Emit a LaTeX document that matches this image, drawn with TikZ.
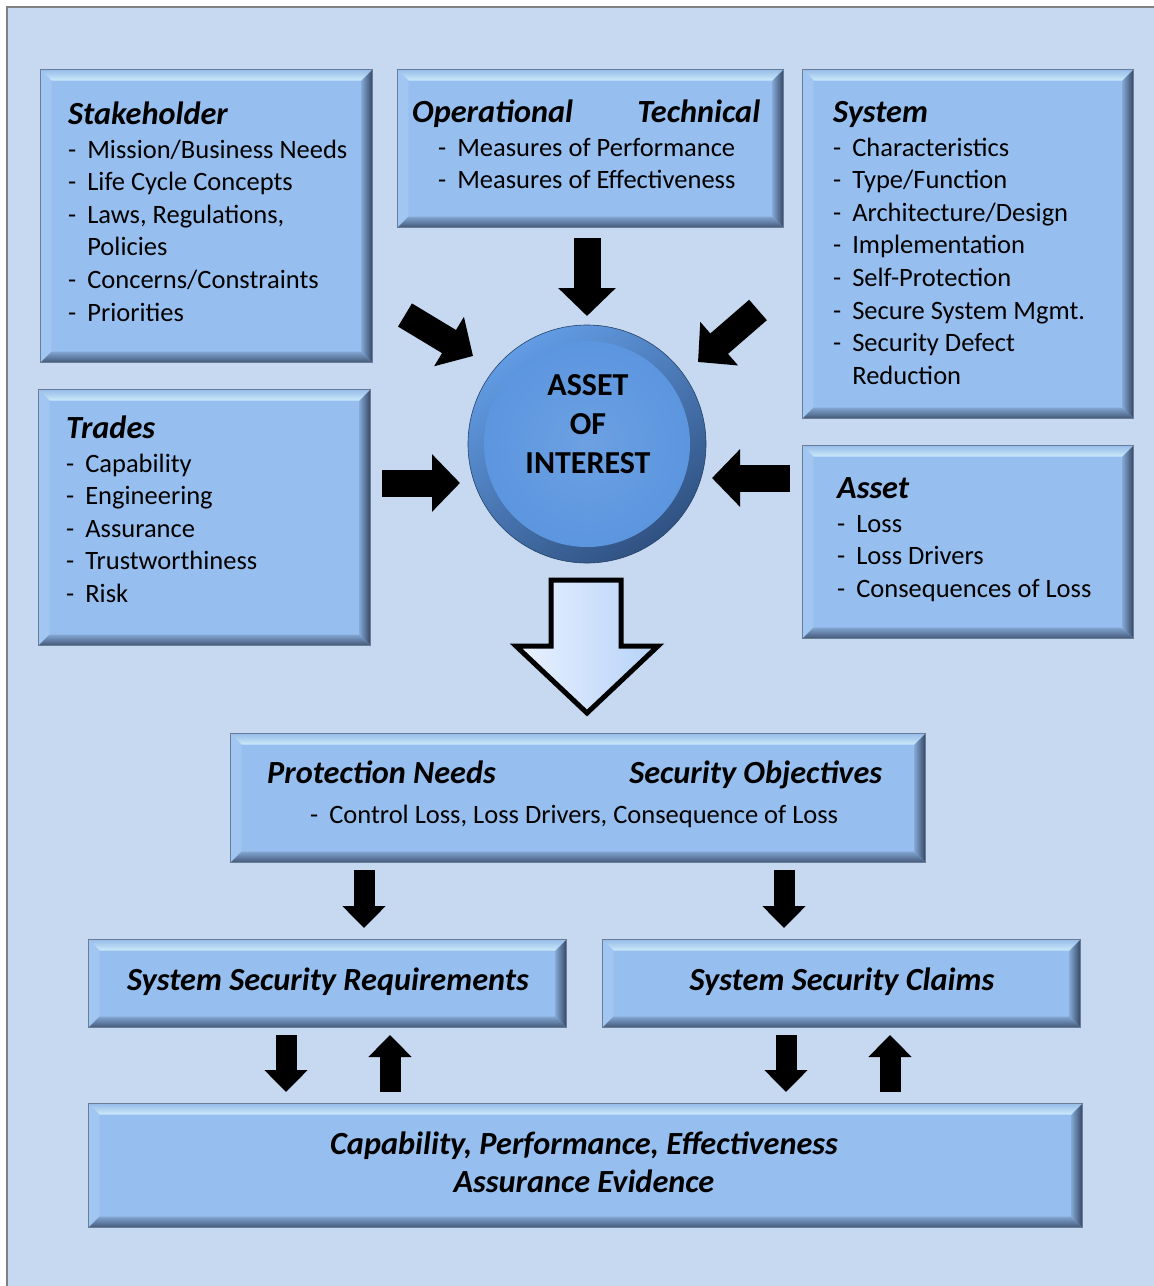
\documentclass[tikz,border=0pt]{standalone}
\usepackage{fontspec}
\setmainfont{Carlito}
\usetikzlibrary{arrows.meta}

\definecolor{bgblue}{RGB}{198,217,240}
\definecolor{framegray}{RGB}{128,128,128}
\definecolor{panelfill}{RGB}{150,190,238}
\definecolor{panelline}{RGB}{105,125,150}
\definecolor{bevout}{RGB}{150,188,232}
\definecolor{bevhi}{RGB}{205,234,251}
\definecolor{bevleft}{RGB}{160,198,241}
\definecolor{bevdark}{RGB}{52,70,98}
\definecolor{orbhi}{RGB}{98,156,228}
\definecolor{orbdark}{RGB}{48,82,130}
\definecolor{orbcore}{RGB}{92,150,223}
\definecolor{hollowl}{RGB}{234,242,255}
\definecolor{hollowr}{RGB}{182,210,248}

\newcommand{\dashitem}{-}
\newcommand{\boxtitle}{\fontsize{32.3}{32.6}\selectfont\bfseries\itshape}

\begin{document}
\begin{tikzpicture}[x=1pt,y=-1pt,
  panel/.style={draw=panelline,line width=1pt,fill=panelfill,inner sep=0pt,anchor=north west,
    path picture={
      \coordinate (pnw) at (path picture bounding box.north west);
      \coordinate (pne) at (path picture bounding box.north east);
      \coordinate (psw) at (path picture bounding box.south west);
      \coordinate (pse) at (path picture bounding box.south east);
      \shade[top color=bevout,bottom color=bevhi] (pnw) -- (pne) -- ([xshift=-11pt,yshift=-11pt]pne) -- ([xshift=11pt,yshift=-11pt]pnw) -- cycle;
      \fill[bevleft] (pnw) -- ([xshift=11pt,yshift=-11pt]pnw) -- ([xshift=11pt,yshift=11pt]psw) -- (psw) -- cycle;
      \shade[left color=panelfill!80!bevdark,right color=bevdark] (pne) -- (pse) -- ([xshift=-11pt,yshift=11pt]pse) -- ([xshift=-11pt,yshift=-11pt]pne) -- cycle;
      \shade[top color=panelfill!80!bevdark,bottom color=bevdark!85!panelfill] (psw) -- (pse) -- ([xshift=-11pt,yshift=11pt]pse) -- ([xshift=11pt,yshift=11pt]psw) -- cycle;
    }},
  body/.style={inner sep=0pt,anchor=base west,font=\fontsize{26.5}{32.6}\selectfont},
  head/.style={inner sep=0pt,anchor=base west,font=\boxtitle},
  blk/.style={line width=27pt,-{Triangle[width=56pt,length=28pt]}},
  blksm/.style={line width=21pt,-{Triangle[width=42pt,length=22pt]}}]

\useasboundingbox (0,0) rectangle (1154,1286);
\fill[white] (0,0) rectangle (1154,1286);
\filldraw[fill=bgblue,draw=framegray,line width=1.5pt] (7,7) rectangle (1175,1305);

% boxes
\node[panel,minimum width=332pt,minimum height=293pt] (stake) at (40,69) {};
\node[panel,minimum width=386pt,minimum height=158pt] (optech) at (397,69) {};
\node[panel,minimum width=331pt,minimum height=349pt] (sys) at (802,69) {};
\node[panel,minimum width=332pt,minimum height=256pt] (trades) at (38,389) {};
\node[panel,minimum width=331pt,minimum height=193pt] (asset) at (802,445) {};
\node[panel,minimum width=695pt,minimum height=129pt] (prot) at (230,733) {};
\node[panel,minimum width=478pt,minimum height=88pt] (ssr) at (88,939) {};
\node[panel,minimum width=478pt,minimum height=88pt] (ssc) at (602,939) {};
\node[panel,minimum width=994pt,minimum height=124pt] (evid) at (88,1103) {};

% asset of interest
\node[circle,minimum size=238pt,draw=orbdark!80!black,line width=0.6pt,
  top color=orbhi,bottom color=orbdark,shading angle=35] (aoi) at (587,444) {};
\shade[inner color=orbcore!90!white,outer color=orbcore] (aoi.center) circle (103pt);
\node[inner sep=0pt,anchor=base,font=\fontsize{32}{39}\selectfont\bfseries] (aoiT) at (588,395)
  {\begin{tabular}[t]{@{}c@{}}ASSET\\OF\\INTEREST\end{tabular}};

% box texts
\node[body] (stakeT) at (68,124) {\begin{tabular}[t]{@{}l@{\hspace{11pt}}l@{}}
  \multicolumn{2}{@{}l}{\boxtitle Stakeholder}\\[1.5pt]
  \dashitem & Mission/Business Needs\\
  \dashitem & Life Cycle Concepts\\
  \dashitem & Laws, Regulations,\\
            & Policies\\
  \dashitem & Concerns/Constraints\\
  \dashitem & Priorities
  \end{tabular}};
\node[head] (opH) at (412,122) {\makebox[348pt][l]{Operational\hfill Technical}};
\node[body] (opT) at (438,156) {\begin{tabular}[t]{@{}l@{\hspace{11pt}}l@{}}
  \dashitem & Measures of Performance\\
  \dashitem & Measures of Effectiveness
  \end{tabular}};
\node[body] (sysT) at (833,122) {\begin{tabular}[t]{@{}l@{\hspace{11pt}}l@{}}
  \multicolumn{2}{@{}l}{\boxtitle System}\\[1.5pt]
  \dashitem & Characteristics\\
  \dashitem & Type/Function\\
  \dashitem & Architecture/Design\\
  \dashitem & Implementation\\
  \dashitem & Self-Protection\\
  \dashitem & Secure System Mgmt.\\
  \dashitem & Security Defect\\
            & Reduction
  \end{tabular}};
\node[body] (tradesT) at (66,438) {\begin{tabular}[t]{@{}l@{\hspace{11pt}}l@{}}
  \multicolumn{2}{@{}l}{\boxtitle Trades}\\[1.5pt]
  \dashitem & Capability\\
  \dashitem & Engineering\\
  \dashitem & Assurance\\
  \dashitem & Trustworthiness\\
  \dashitem & Risk
  \end{tabular}};
\node[body] (assetT) at (837,498) {\begin{tabular}[t]{@{}l@{\hspace{11pt}}l@{}}
  \multicolumn{2}{@{}l}{\boxtitle Asset}\\[1.5pt]
  \dashitem & Loss\\
  \dashitem & Loss Drivers\\
  \dashitem & Consequences of Loss
  \end{tabular}};
\node[head] (protH) at (267,783) {\makebox[615pt][l]{Protection Needs\hfill Security Objectives}};
\node[body] (protT) at (310,823) {\dashitem\hspace{11pt}Control Loss, Loss Drivers, Consequence of Loss};
\node[head,anchor=base] (ssrT) at (328,990) {System Security Requirements};
\node[head,anchor=base] (sscT) at (842,990) {System Security Claims};
\node[inner sep=0pt,anchor=base,font=\fontsize{32.3}{38}\selectfont\bfseries\itshape] (evidT) at (584,1154)
  {\begin{tabular}[t]{@{}c@{}}Capability, Performance, Effectiveness\\Assurance Evidence\end{tabular}};

% hollow arrow to protection needs
\draw[line width=5pt,line join=miter,left color=hollowl,right color=hollowr]
  (551,580) -- (621,580) -- (621,646) -- (658,646) -- (587,713) -- (516,646) -- (551,646) -- cycle;

% arrows into the asset
\coordinate (upT) at (587,238);   \coordinate (upH) at (587,316);
\coordinate (ulT) at (405,315);   \coordinate (ulH) at (473,356);
\coordinate (urT) at (758,310);   \coordinate (urH) at (698,362);
\coordinate (lfT) at (382,483);   \coordinate (lfH) at (460,483);
\coordinate (rtT) at (790,478);   \coordinate (rtH) at (712,478);
\draw[blk] (upT) -- (upH);
\draw[blk] (ulT) -- (ulH);
\draw[blk] (urT) -- (urH);
\draw[blk] (lfT) -- (lfH);
\draw[blk] (rtT) -- (rtH);

% lower arrows
\coordinate (p1) at (364,870);  \coordinate (p2) at (364,928);
\coordinate (p3) at (784,870);  \coordinate (p4) at (784,928);
\coordinate (r1) at (286,1035); \coordinate (r2) at (286,1092);
\coordinate (r3) at (390,1092); \coordinate (r4) at (390,1035);
\coordinate (c1) at (786,1035); \coordinate (c2) at (786,1092);
\coordinate (c3) at (890,1092); \coordinate (c4) at (890,1035);
\draw[blksm] (p1) -- (p2);
\draw[blksm] (p3) -- (p4);
\draw[blksm] (r1) -- (r2);
\draw[blksm] (r3) -- (r4);
\draw[blksm] (c1) -- (c2);
\draw[blksm] (c3) -- (c4);
\end{tikzpicture}
\end{document}
